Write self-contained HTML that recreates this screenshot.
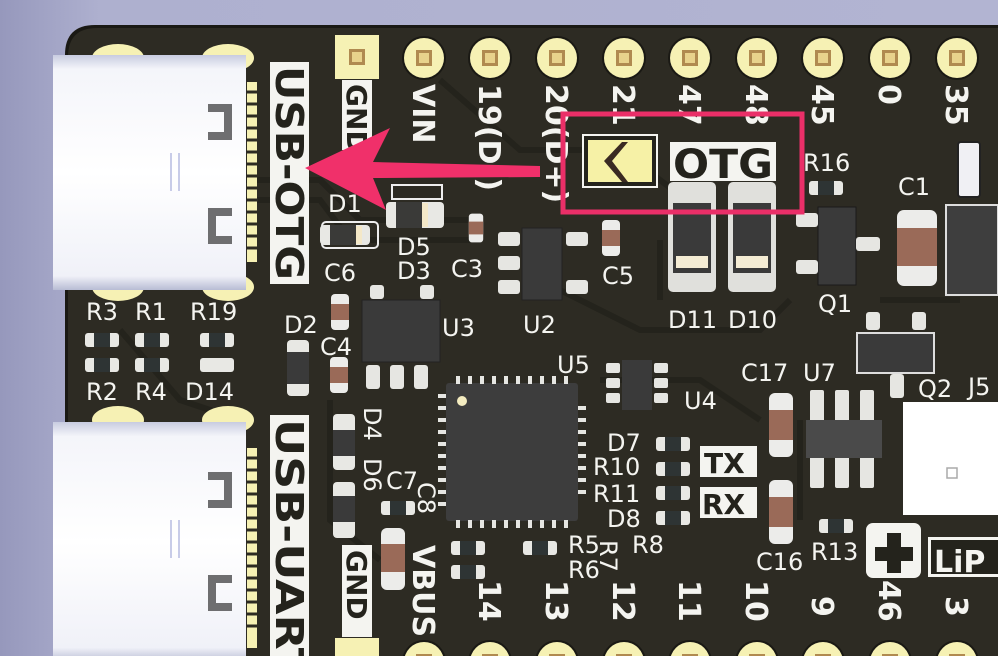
<!DOCTYPE html>
<html><head><meta charset="utf-8"><style>
html,body{margin:0;padding:0;background:#aeb0cf;}
svg{display:block;}
.l{font-family:"DejaVu Sans","Liberation Sans",sans-serif;fill:#f4f4f0;font-size:24px;}
.p{font-family:"DejaVu Sans","Liberation Sans",sans-serif;font-weight:bold;fill:#f4f4f0;font-size:30px;}
.b{font-family:"DejaVu Sans","Liberation Sans",sans-serif;font-weight:bold;fill:#24231c;}
</style></head><body>
<svg width="998" height="656" viewBox="0 0 998 656" xmlns="http://www.w3.org/2000/svg">
<defs>
<linearGradient id="bg" x1="0" y1="0" x2="1" y2="0"><stop offset="0" stop-color="#9698bc"/><stop offset="0.1" stop-color="#aeb0cf"/><stop offset="1" stop-color="#b2b4d2"/></linearGradient>
<linearGradient id="usb" x1="0" y1="0" x2="0" y2="1"><stop offset="0" stop-color="#c8cce0"/><stop offset="0.06" stop-color="#f4f5fa"/><stop offset="0.5" stop-color="#ffffff"/><stop offset="0.94" stop-color="#f0f1f8"/><stop offset="1" stop-color="#b8bcd4"/></linearGradient>
<g id="pad"><circle r="22" fill="#1a1914"/><circle r="20" fill="#f6f1b4"/><rect x="-8" y="-8" width="16" height="16" fill="#b08a50"/><rect x="-5" y="-5" width="10" height="10" fill="#e8d28c"/></g>
<g id="res"><rect x="-17" y="-7" width="34" height="14" rx="3" fill="#e8e8e4"/><rect x="-8" y="-7" width="16" height="14" fill="#2e3434"/></g>
<g id="capv"><rect x="-9" y="-18" width="18" height="36" rx="4" fill="#ececea"/><rect x="-9" y="-8" width="18" height="16" fill="#9a6a58"/></g>
</defs>
<rect width="998" height="656" fill="url(#bg)"/>
<!-- board -->
<path d="M65 656 L65 55 Q65 25 95 25 L998 25 L998 656 Z" fill="#1a1914"/>
<path d="M68 656 L68 57 Q68 28 97 28 L998 28 L998 656 Z" fill="#2d2b23"/>
<!-- some traces -->
<g stroke="#24231c" stroke-width="6" fill="none">
<path d="M245 180 L320 180 L360 220 L480 220"/><path d="M245 200 L320 200 L350 240 L470 240"/>
<path d="M440 80 L520 150 L620 150 L700 210"/><path d="M560 290 L640 330 L760 330 L790 300"/>
<path d="M600 380 L700 380 L760 420"/><path d="M120 330 L180 400 L240 420"/><path d="M330 400 L330 520 L380 560"/>
<path d="M800 420 L800 520"/><path d="M660 240 L660 300"/><path d="M880 300 L960 300"/>
</g>
<!-- top pads -->
<rect x="335" y="35" width="44" height="44" fill="#f6f1b4"/><rect x="349" y="49" width="16" height="16" fill="#b08a50"/><rect x="352" y="52" width="10" height="10" fill="#e8d28c"/>
<use href="#pad" x="424" y="58"/><use href="#pad" x="490" y="58"/><use href="#pad" x="557" y="58"/><use href="#pad" x="624" y="58"/><use href="#pad" x="690" y="58"/><use href="#pad" x="757" y="58"/><use href="#pad" x="823" y="58"/><use href="#pad" x="890" y="58"/><use href="#pad" x="957" y="58"/>
<!-- bottom pads -->
<rect x="335" y="638" width="44" height="40" fill="#f6f1b4"/>
<use href="#pad" x="424" y="662"/><use href="#pad" x="490" y="662"/><use href="#pad" x="557" y="662"/><use href="#pad" x="624" y="662"/><use href="#pad" x="690" y="662"/><use href="#pad" x="757" y="662"/><use href="#pad" x="823" y="662"/><use href="#pad" x="890" y="662"/><use href="#pad" x="957" y="662"/>
<!-- top pin labels (rotated) -->
<rect x="342" y="80" width="30" height="70" fill="#f4f4f0"/>
<text class="b" font-size="28" transform="translate(347,84) rotate(90)">GND</text>
<g class="p">
<text transform="translate(413,84) rotate(90)">VIN</text>
<text transform="translate(479,84) rotate(90)">19(D-)</text>
<text transform="translate(546,84) rotate(90)">20(D+)</text>
<text transform="translate(613,84) rotate(90)">21</text>
<text transform="translate(679,84) rotate(90)">47</text>
<text transform="translate(746,84) rotate(90)">48</text>
<text transform="translate(812,84) rotate(90)">45</text>
<text transform="translate(879,84) rotate(90)">0</text>
<text transform="translate(946,84) rotate(90)">35</text>
</g>
<!-- bottom pin labels -->
<rect x="342" y="545" width="30" height="92" fill="#f4f4f0"/>
<text class="b" font-size="28" transform="translate(347,550) rotate(90)">GND</text>
<g class="p">
<text transform="translate(413,545) rotate(90)">VBUS</text>
<text transform="translate(479,580) rotate(90)">14</text>
<text transform="translate(546,580) rotate(90)">13</text>
<text transform="translate(613,580) rotate(90)">12</text>
<text transform="translate(679,580) rotate(90)">11</text>
<text transform="translate(746,580) rotate(90)">10</text>
<text transform="translate(812,596) rotate(90)">9</text>
<text transform="translate(879,580) rotate(90)">46</text>
<text transform="translate(946,596) rotate(90)">3</text>
</g>
<!-- USB connectors -->
<g>
<ellipse cx="118" cy="58" rx="26" ry="14" fill="#f6f1b4"/><ellipse cx="228" cy="58" rx="26" ry="14" fill="#f6f1b4"/>
<ellipse cx="118" cy="287" rx="26" ry="14" fill="#f6f1b4"/><ellipse cx="228" cy="287" rx="26" ry="14" fill="#f6f1b4"/>
<g fill="#f6f1b4"><rect x="247" y="82" width="10" height="180" /></g>
<g stroke="#2d2b23" stroke-width="3"><path d="M247 92H258M247 104H258M247 116H258M247 128H258M247 140H258M247 152H258M247 164H258M247 176H258M247 188H258M247 200H258M247 212H258M247 224H258M247 236H258M247 248H258"/></g>
<rect x="53" y="55" width="193" height="235" fill="url(#usb)"/>
<path d="M208 104h24v36h-24v-8h16v-20h-16z" fill="#6e6e70"/><path d="M208 208h24v36h-24v-8h16v-20h-16z" fill="#6e6e70" transform="rotate(180 220 226)"/>
<rect x="170" y="153" width="2" height="38" fill="#c8cce8"/><rect x="178" y="153" width="2" height="38" fill="#c8cce8"/>
</g>
<g>
<ellipse cx="118" cy="420" rx="26" ry="14" fill="#f6f1b4"/><ellipse cx="228" cy="420" rx="26" ry="14" fill="#f6f1b4"/>
<rect x="247" y="448" width="10" height="200" fill="#f6f1b4"/>
<g stroke="#2d2b23" stroke-width="3"><path d="M247 458H258M247 470H258M247 482H258M247 494H258M247 506H258M247 518H258M247 530H258M247 542H258M247 554H258M247 566H258M247 578H258M247 590H258M247 602H258M247 614H258M247 626H258"/></g>
<rect x="53" y="422" width="193" height="240" fill="url(#usb)"/>
<path d="M208 472h24v36h-24v-8h16v-20h-16z" fill="#6e6e70"/><path d="M208 575h24v36h-24v-8h16v-20h-16z" fill="#6e6e70" transform="rotate(180 220 593)"/>
<rect x="170" y="520" width="2" height="38" fill="#c8cce8"/><rect x="178" y="520" width="2" height="38" fill="#c8cce8"/>
</g>
<!-- USB labels -->
<rect x="270" y="62" width="39" height="222" fill="#f4f4f0"/>
<text class="b" font-size="38" transform="translate(276,66) rotate(90)" textLength="214" lengthAdjust="spacingAndGlyphs">USB-OTG</text>
<rect x="270" y="415" width="39" height="245" fill="#f4f4f0"/>
<text class="b" font-size="38" transform="translate(276,419) rotate(90)" textLength="260" lengthAdjust="spacingAndGlyphs">USB-UART</text>
<!-- small components -->
<g>
<rect x="322" y="222" width="56" height="26" rx="4" fill="none" stroke="#eee" stroke-width="2"/>
<rect x="320" y="225" width="50" height="20" rx="4" fill="#e8e8e4"/><rect x="330" y="225" width="26" height="20" fill="#3a3a38"/><rect x="356" y="226" width="6" height="18" fill="#f4e8c8"/>
<rect x="386" y="202" width="58" height="26" rx="4" fill="#e8e8e4"/><rect x="396" y="202" width="26" height="26" fill="#3a3a38"/><rect x="422" y="203" width="6" height="24" fill="#f4e8c8"/>
<rect x="392" y="185" width="50" height="14" fill="none" stroke="#eee" stroke-width="2"/>
<use href="#capv" x="476" y="228" transform="scale(0.8) translate(119 57)"/>
<use href="#capv" x="611" y="238" transform=""/>
<use href="#capv" x="340" y="312"/>
<use href="#capv" x="339" y="375"/>
<!-- U2 -->
<rect x="522" y="228" width="40" height="72" fill="#3a3a3a" stroke="#222"/>
<g fill="#e6e6e2"><rect x="498" y="232" width="22" height="14" rx="3"/><rect x="498" y="256" width="22" height="14" rx="3"/><rect x="498" y="280" width="22" height="14" rx="3"/><rect x="566" y="232" width="22" height="14" rx="3"/><rect x="566" y="280" width="22" height="14" rx="3"/></g>
<!-- D11 D10 -->
<rect x="668" y="182" width="48" height="110" rx="5" fill="#e0e0dc"/><rect x="673" y="203" width="38" height="70" fill="#3a3a3a"/><rect x="676" y="256" width="32" height="12" fill="#f4ecd4"/>
<rect x="728" y="182" width="48" height="110" rx="5" fill="#e0e0dc"/><rect x="733" y="203" width="38" height="70" fill="#3a3a3a"/><rect x="736" y="256" width="32" height="12" fill="#f4ecd4"/>
<use href="#res" x="826" y="188"/>
<!-- Q1 -->
<rect x="818" y="207" width="38" height="78" fill="#3a3a3a" stroke="#1a1a1a"/>
<g fill="#e6e6e2"><rect x="796" y="213" width="22" height="14" rx="3"/><rect x="796" y="260" width="22" height="14" rx="3"/><rect x="856" y="237" width="24" height="14" rx="3"/></g>
<!-- C1 -->
<rect x="897" y="210" width="40" height="76" rx="7" fill="#ececea"/><rect x="897" y="228" width="40" height="38" fill="#9a6a58"/>
<rect x="946" y="205" width="52" height="90" fill="#3e3e3e" stroke="#ddd" stroke-width="2"/>
<rect x="958" y="142" width="22" height="55" rx="3" fill="#f0f0f4" stroke="#222" stroke-width="2"/>
<!-- U3 -->
<rect x="362" y="300" width="78" height="62" fill="#3a3a3a" stroke="#222"/>
<g fill="#e6e6e2"><rect x="366" y="365" width="14" height="24" rx="3"/><rect x="390" y="365" width="14" height="24" rx="3"/><rect x="414" y="365" width="14" height="24" rx="3"/><rect x="370" y="285" width="14" height="14" rx="3"/><rect x="420" y="285" width="14" height="14" rx="3"/></g>
<!-- D2 -->
<rect x="287" y="340" width="22" height="56" rx="4" fill="#e8e8e4"/><rect x="287" y="352" width="22" height="32" fill="#3a3a3a"/>
<!-- D4 D6 -->
<rect x="333" y="414" width="22" height="56" rx="4" fill="#e8e8e4"/><rect x="333" y="430" width="22" height="26" fill="#3a3a3a"/>
<rect x="333" y="482" width="22" height="56" rx="4" fill="#e8e8e4"/><rect x="333" y="496" width="22" height="26" fill="#3a3a3a"/>
<!-- R blocks left -->
<use href="#res" x="102" y="340"/><use href="#res" x="152" y="340"/><use href="#res" x="217" y="340"/>
<use href="#res" x="102" y="365"/><use href="#res" x="152" y="365"/>
<rect x="200" y="358" width="34" height="14" rx="3" fill="#e8e8e4"/>
<!-- QFN -->
<rect x="446" y="383" width="132" height="138" rx="3" fill="#3d3d3d"/>
<circle cx="462" cy="401" r="5" fill="#f4ecc0"/>
<g stroke="#e6e6e2" stroke-width="4">
<path d="M458 376v8M470 376v8M482 376v8M494 376v8M506 376v8M518 376v8M530 376v8M542 376v8M554 376v8M566 376v8"/>
<path d="M458 520v8M470 520v8M482 520v8M494 520v8M506 520v8M518 520v8M530 520v8M542 520v8M554 520v8M566 520v8"/>
<path d="M438 396h8M438 408h8M438 420h8M438 432h8M438 444h8M438 456h8M438 468h8M438 480h8M438 492h8M438 504h8"/>
<path d="M578 408h8M578 420h8M578 432h8M578 444h8M578 456h8M578 468h8M578 480h8M578 492h8"/>
</g>
<!-- U4 -->
<rect x="622" y="360" width="30" height="50" fill="#3a3a3a"/>
<g fill="#e6e6e2"><rect x="606" y="363" width="14" height="10" rx="2"/><rect x="606" y="378" width="14" height="10" rx="2"/><rect x="606" y="393" width="14" height="10" rx="2"/><rect x="654" y="363" width="14" height="10" rx="2"/><rect x="654" y="378" width="14" height="10" rx="2"/><rect x="654" y="393" width="14" height="10" rx="2"/></g>
<!-- D7..D8 -->
<use href="#res" x="673" y="444"/><use href="#res" x="673" y="469"/><use href="#res" x="673" y="493"/><use href="#res" x="673" y="518"/>
<!-- TX RX -->
<rect x="700" y="446" width="57" height="31" fill="#f4f4f0"/><text class="b" font-size="28" x="704" y="473">TX</text>
<rect x="700" y="487" width="57" height="31" fill="#f4f4f0"/><text class="b" font-size="28" x="702" y="514">RX</text>
<!-- C17 C16 -->
<rect x="769" y="393" width="24" height="64" rx="6" fill="#ececea"/><rect x="769" y="410" width="24" height="30" fill="#9a6a58"/>
<rect x="769" y="480" width="24" height="64" rx="6" fill="#ececea"/><rect x="769" y="497" width="24" height="30" fill="#9a6a58"/>
<!-- U7 -->
<rect x="810" y="390" width="14" height="98" rx="2" fill="#e6e6e2"/><rect x="835" y="390" width="14" height="98" rx="2" fill="#e6e6e2"/><rect x="860" y="390" width="14" height="98" rx="2" fill="#e6e6e2"/>
<rect x="806" y="420" width="76" height="38" fill="#4a4a4a"/>
<use href="#res" x="836" y="526"/>
<!-- Q2 -->
<rect x="857" y="333" width="77" height="40" fill="#3a3a3a" stroke="#ddd" stroke-width="2"/>
<rect x="890" y="374" width="14" height="24" rx="3" fill="#e6e6e2"/><rect x="866" y="312" width="14" height="18" rx="3" fill="#e6e6e2"/><rect x="912" y="312" width="14" height="18" rx="3" fill="#e6e6e2"/>
<!-- J5 -->
<rect x="903" y="402" width="95" height="113" fill="#ffffff"/>
<rect x="947" y="468" width="10" height="10" fill="none" stroke="#aaa" stroke-width="1.5"/>
<!-- plus / LiP -->
<rect x="866" y="523" width="55" height="55" rx="7" fill="#f4f4f0"/>
<path d="M887 533h14v14h12v14h-12v12h-14v-12h-12v-14h12z" fill="#24231c"/>
<rect x="928" y="537" width="70" height="40" fill="#f4f4f0"/><rect x="931" y="540" width="67" height="34" fill="#24231c"/>
<text class="p" font-size="34" x="934" y="572" style="fill:#f4f4f0">LiP</text>
<!-- bottom left res -->
<use href="#res" x="468" y="548"/><use href="#res" x="540" y="548"/><use href="#res" x="468" y="572"/>
<rect x="381" y="528" width="24" height="62" rx="6" fill="#ececea"/><rect x="381" y="544" width="24" height="28" fill="#9a6a58"/>
<use href="#res" x="398" y="508"/>
</g>
<!-- component labels -->
<g class="l">
<text x="328" y="212">D1</text><text x="397" y="255">D5</text><text x="397" y="279">D3</text><text x="451" y="277">C3</text>
<text x="324" y="281">C6</text><text x="602" y="284">C5</text><text x="523" y="333">U2</text><text x="668" y="328">D11</text><text x="728" y="328">D10</text>
<text x="818" y="312">Q1</text><text x="803" y="171">R16</text><text x="898" y="195">C1</text><text x="442" y="336">U3</text><text x="284" y="333">D2</text><text x="320" y="355">C4</text>
<text x="86" y="320">R3</text><text x="135" y="320">R1</text><text x="190" y="320">R19</text><text x="86" y="400">R2</text><text x="135" y="400">R4</text><text x="185" y="400">D14</text>
<text x="557" y="373">U5</text><text x="684" y="409">U4</text><text x="741" y="381">C17</text><text x="803" y="381">U7</text><text x="918" y="397">Q2</text><text x="968" y="395">J5</text>
<text x="607" y="451">D7</text><text x="593" y="475">R10</text><text x="593" y="502">R11</text><text x="607" y="527">D8</text>
<text x="568" y="553">R5</text><text x="568" y="578">R6</text><text x="632" y="553">R8</text><text transform="translate(600,540) rotate(90)">R7</text>
<text x="756" y="570">C16</text><text x="811" y="560">R13</text><text x="386" y="489">C7</text>
<text transform="translate(418,482) rotate(90)">C8</text><text transform="translate(364,407) rotate(90)">D4</text><text transform="translate(364,458) rotate(90)">D6</text>
</g>
<!-- highlight box -->
<rect x="563" y="114" width="239" height="98" fill="none" stroke="#ea2f68" stroke-width="5"/>
<rect x="583" y="135" width="74" height="52" fill="#24231c" stroke="#f4f4f0" stroke-width="2"/>
<rect x="588" y="140" width="64" height="42" fill="#f6f1a6"/>
<path d="M622 142 L604 161 L622 182 L628 182 L612 161 L628 142 Z" fill="#3a2a22"/>
<rect x="670" y="142" width="106" height="39" fill="#f4f4f0"/>
<text class="b" font-size="40" x="673" y="178" textLength="100" lengthAdjust="spacingAndGlyphs">OTG</text>
<!-- arrow -->
<path d="M305 168 L390 128 L373 162 L540 166 L540 177 L373 178 L386 210 Z" fill="#f0306a"/>
</svg>
</body></html>
